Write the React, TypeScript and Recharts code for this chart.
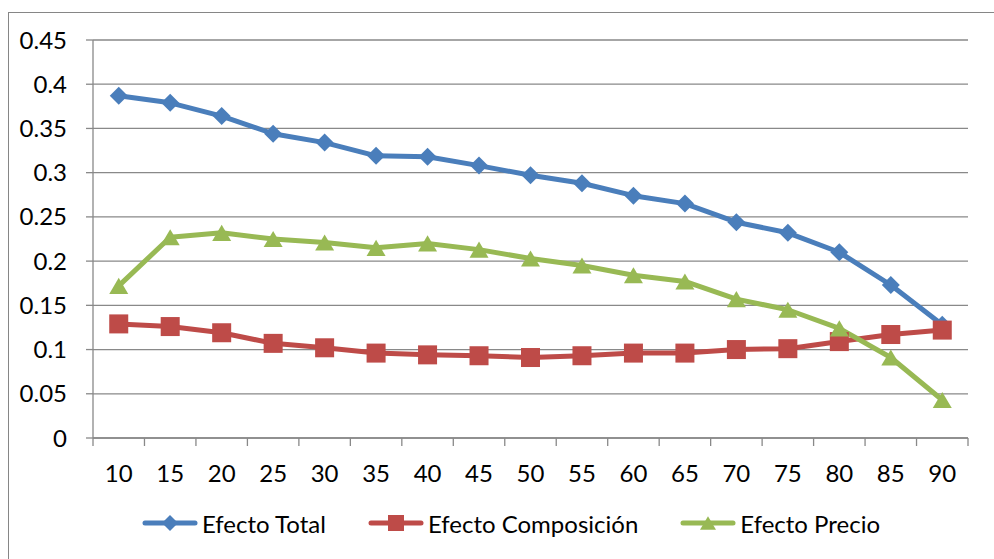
import { LineChart, Line, XAxis, YAxis, CartesianGrid, Legend } from "recharts";

// edades (eje X)
const ages = ["10", "15", "20", "25", "30", "35", "40", "45", "50", "55", "60", "65", "70", "75", "80", "85", "90"];

const efectoTotal = [0.387, 0.379, 0.364, 0.344, 0.334, 0.319, 0.318, 0.308, 0.297, 0.288, 0.274, 0.265, 0.244, 0.232, 0.21, 0.173, 0.128];
const efectoComposicion = [0.129, 0.126, 0.119, 0.107, 0.102, 0.096, 0.094, 0.093, 0.091, 0.093, 0.096, 0.096, 0.1, 0.101, 0.109, 0.117, 0.122];
const efectoPrecio = [0.172, 0.227, 0.232, 0.225, 0.221, 0.215, 0.22, 0.213, 0.203, 0.195, 0.184, 0.177, 0.157, 0.145, 0.124, 0.091, 0.043];

const yTicks = [0, 0.05, 0.1, 0.15, 0.2, 0.25, 0.3, 0.35, 0.4, 0.45];

const data = ages.map((age, i) => ({
  age,
  total: efectoTotal[i],
  composicion: efectoComposicion[i],
  precio: efectoPrecio[i],
}));

const BLUE = "#4a7ebb";
const RED = "#be4b48";
const GREEN = "#98b954";
const GRID = "#898989";
const FONT = "Lato, 'Open Sans', sans-serif";
const FONT_SIZE = 24;

const CHART_W = 990;
const CHART_H = 550;
const MARGIN = { top: 27, right: 31, bottom: 25, left: 0 };
const Y_AXIS_W = 84;
const BAND = (CHART_W - MARGIN.left - MARGIN.right - Y_AXIS_W) / ages.length;

const legendOrder = ["total", "composicion", "precio"];

type Shape = "diamond" | "square" | "triangle";

function Marker({ shape, cx, cy, fill, s }: { shape: Shape; cx: number; cy: number; fill: string; s: number }) {
  if (shape === "diamond") {
    const pts = `${cx},${cy - s} ${cx + s},${cy} ${cx},${cy + s} ${cx - s},${cy}`;
    return <polygon points={pts} fill={fill} />;
  }
  if (shape === "square") {
    return <rect x={cx - s} y={cy - s} width={s * 2} height={s * 2} fill={fill} />;
  }
  const h = s * 1.7;
  const pts = `${cx},${cy - h / 2} ${cx + s},${cy + h / 2} ${cx - s},${cy + h / 2}`;
  return <polygon points={pts} fill={fill} />;
}

const shapes: Record<string, Shape> = { total: "diamond", composicion: "square", precio: "triangle" };

function dotFor(shape: Shape, color: string, s: number) {
  return (p: any) => <Marker key={`${shape}-${p.index}`} shape={shape} cx={p.cx} cy={p.cy} fill={color} s={s} />;
}

function AgeTick(props: any) {
  const { x, y, payload, index } = props;
  const last = index === ages.length - 1;
  return (
    <g>
      <line x1={x - BAND / 2} x2={x - BAND / 2} y1={y} y2={y + 8} stroke={GRID} strokeWidth={1.3} />
      {last && <line x1={x + BAND / 2} x2={x + BAND / 2} y1={y} y2={y + 8} stroke={GRID} strokeWidth={1.3} />}
      <text x={x} y={y + 44} textAnchor="middle" fill="#000" fontSize={FONT_SIZE} fontFamily={FONT}>
        {payload.value}
      </text>
    </g>
  );
}

function renderLegend(props: any) {
  const payload = [...props.payload].sort(
    (a: any, b: any) => legendOrder.indexOf(a.dataKey) - legendOrder.indexOf(b.dataKey)
  );
  return (
    <div
      style={{
        display: "flex",
        justifyContent: "center",
        alignItems: "center",
        gap: 42,
        height: 30,
        paddingLeft: 14,
        fontFamily: FONT,
        fontSize: FONT_SIZE,
        color: "#000",
      }}
    >
      {payload.map((entry: any) => (
        <span key={entry.value} style={{ display: "flex", alignItems: "center" }}>
          <svg width={56} height={20} style={{ marginRight: 4 }}>
            <line x1={3} x2={53} y1={10} y2={10} stroke={entry.color} strokeWidth={5} strokeLinecap="round" />
            <Marker shape={shapes[entry.dataKey]} cx={28} cy={10} fill={entry.color} s={8} />
          </svg>
          {entry.value}
        </span>
      ))}
    </div>
  );
}

export default function App() {
  return (
    <div style={{ position: "fixed", inset: 0, overflow: "hidden", background: "#fff" }}>
      <div
        style={{
          position: "absolute",
          left: 8,
          top: 12,
          width: 1000,
          height: 560,
          border: "1px solid #868686",
        }}
      >
        <LineChart width={CHART_W} height={CHART_H} data={data} margin={MARGIN}>
          <CartesianGrid vertical={false} stroke={GRID} strokeWidth={1.3} />
          <XAxis
            dataKey="age"
            height={70}
            padding={{ left: BAND / 2, right: BAND / 2 }}
            tickSize={0}
            tickMargin={0}
            tickLine={false}
            axisLine={{ stroke: GRID, strokeWidth: 1.3 }}
            tick={<AgeTick />}
            interval={0}
          />
          <YAxis
            width={Y_AXIS_W}
            domain={[0, 0.45]}
            ticks={yTicks}
            tickSize={7}
            tickMargin={19}
            axisLine={{ stroke: GRID, strokeWidth: 1.3 }}
            tickLine={{ stroke: GRID, strokeWidth: 1.3 }}
            tick={{ fill: "#000", fontSize: FONT_SIZE, fontFamily: FONT }}
          />
          <Legend verticalAlign="bottom" content={renderLegend} wrapperStyle={{ left: 0, width: CHART_W }} />
          <Line
            dataKey="total"
            name="Efecto Total"
            stroke={BLUE}
            strokeWidth={5}
            strokeLinejoin="round"
            dot={dotFor("diamond", BLUE, 9)}
            isAnimationActive={false}
          />
          <Line
            dataKey="composicion"
            name="Efecto Composición"
            stroke={RED}
            strokeWidth={5}
            strokeLinejoin="round"
            dot={dotFor("square", RED, 9.5)}
            isAnimationActive={false}
          />
          <Line
            dataKey="precio"
            name="Efecto Precio"
            stroke={GREEN}
            strokeWidth={5}
            strokeLinejoin="round"
            dot={dotFor("triangle", GREEN, 9.5)}
            isAnimationActive={false}
          />
        </LineChart>
      </div>
    </div>
  );
}
